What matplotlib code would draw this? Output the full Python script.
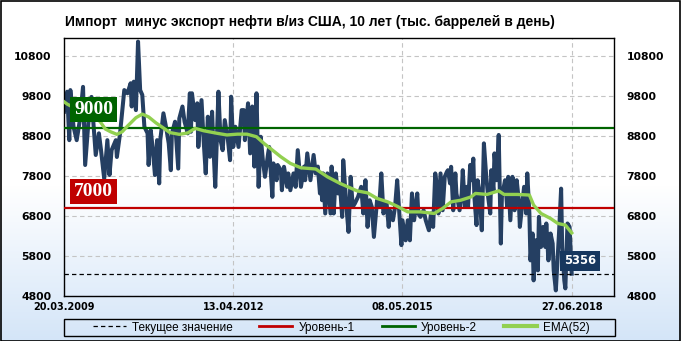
import numpy as np
import matplotlib.pyplot as plt
from matplotlib.lines import Line2D
from matplotlib.patches import Rectangle

# недельные данные (номер недели от 20.03.2009, тыс. баррелей в день)
weeks = [0, 3, 5, 6, 9, 12, 15, 18, 20, 23, 26, 30, 33, 35, 38, 41, 43, 45, 49, 50,
         53, 57, 60, 63, 64, 66, 68, 70, 72, 74, 76, 79, 80, 82, 84, 86, 88, 90, 91, 94,
         97, 99, 101, 102, 105, 108, 109, 112, 114, 117, 119, 120, 121, 124, 126, 127, 130, 132, 134, 136,
         138, 140, 141, 143, 145, 146, 148, 150, 152, 155, 157, 158, 160, 162, 165, 168, 170, 171, 174, 176,
         178, 180, 182, 184, 186, 188, 190, 193, 194, 197, 198, 201, 202, 205, 206, 208, 211, 212, 214, 217,
         219, 221, 224, 227, 228, 230, 233, 236, 238, 240, 242, 243, 244, 245, 247, 249, 252, 253, 255, 257,
         259, 261, 263, 264, 266, 267, 269, 271, 273, 275, 278, 281, 283, 285, 287, 289, 291, 293, 296, 298,
         300, 302, 305, 307, 308, 311, 313, 315, 317, 319, 320, 323, 325, 327, 329, 331, 334, 335, 337, 340,
         342, 345, 347, 349, 351, 353, 354, 356, 358, 360, 362, 363, 365, 366, 368, 370, 371, 374, 376, 377,
         379, 381, 382, 384, 385, 387, 388, 390, 391, 393, 395, 397, 399, 401, 403, 404, 406, 407, 409, 411,
         413, 414, 417, 419, 420, 422, 424, 426, 428, 430, 431, 433, 435, 437, 438, 440, 441, 443, 444, 446,
         448, 449, 451, 453, 455, 456, 458, 460, 462, 463, 465, 467, 468, 470, 471, 473, 474, 476, 478, 480]
values = [9400, 9900, 8690, 9940, 9025, 8690, 9190, 10020, 8070, 9110, 9770, 8320, 8860, 8440, 7730, 8690, 7820, 8440, 8690, 8270,
          8860, 9940, 9860, 10110, 9530, 10150, 9440, 11150, 9940, 9820, 9025, 8860, 8070, 8940, 8440, 7820, 8690, 7610, 8690, 9360,
          8940, 8610, 7940, 8860, 9150, 7980, 9230, 9530, 9150, 8860, 9860, 8900, 9860, 9190, 9610, 8520, 9690, 8690, 7860, 9275,
          8275, 9400, 8690, 7525, 9110, 9900, 8690, 8440, 9190, 8690, 8190, 9775, 8520, 9025, 8520, 9440, 9440, 8690, 9610, 8360,
          9530, 8030, 9860, 7525, 8775, 8190, 7775, 8360, 8520, 7275, 8110, 7690, 8070, 7940, 7440, 8025, 7525, 7860, 7440, 7860,
          7525, 8440, 7525, 8030, 7690, 8360, 7690, 8320, 7860, 8030, 7360, 7860, 7190, 7860, 6860, 7860, 6860, 8030, 6860, 7860,
          7360, 7525, 6775, 8190, 7440, 7025, 6400, 7775, 7025, 7110, 7275, 7525, 6860, 7690, 6525, 7190, 7025, 6275, 7190, 7025,
          7860, 6860, 7110, 6525, 6940, 6690, 7025, 7690, 6860, 6070, 6690, 6190, 6690, 6190, 7360, 6690, 7360, 6860, 6775, 6940,
          6690, 6440, 6860, 6525, 7860, 7440, 6860, 7860, 6940, 7775, 7900, 7940, 7610, 8025, 6940, 7860, 7360, 6940, 7360, 7940,
          7025, 7525, 7025, 8070, 7690, 8230, 7275, 6570, 7690, 7360, 6440, 8610, 7860, 7275, 6860, 7940, 7440, 8360, 7690, 8820,
          6110, 7275, 7690, 7025, 7775, 6690, 7775, 6940, 7690, 7190, 6525, 7025, 7525, 6860, 7860, 6860, 5690, 6360, 5190, 6190,
          5440, 6775, 6025, 6525, 6025, 6610, 5690, 6360, 6110, 5440, 4940, 5860, 6360, 7480, 6025, 5190, 4990, 6610, 6525, 5356]

# EMA(52)
ema_weeks = [0, 3, 34, 39, 44, 50, 55, 60, 68, 74, 80, 87, 95, 100, 109, 117, 124, 132, 145, 154,
             164, 173, 182, 189, 195, 205, 214, 224, 238, 249, 261, 277, 287, 296, 306, 315, 325, 337, 350, 358,
             366, 375, 385, 389, 400, 411, 416, 429, 440, 444, 451, 460, 467, 474, 480]
ema_values = [9650, 9590, 9160, 8970, 8900, 8835, 8900, 9040, 9250, 9340, 9270, 9120, 8975, 8880, 8835, 8870, 8985, 8925, 8860, 8820,
              8840, 8840, 8775, 8610, 8485, 8275, 8110, 8000, 7970, 7775, 7610, 7425, 7375, 7235, 7150, 7040, 6900, 6900, 6860, 6985,
              7150, 7190, 7275, 7360, 7335, 7425, 7335, 7335, 7320, 7070, 6860, 6735, 6610, 6570, 6375]

tick_weeks = [0, 160, 320, 480]
tick_dates = ['20.03.2009', '13.04.2012', '08.05.2015', '27.06.2018']
y_ticks = [4800, 5800, 6800, 7800, 8800, 9800, 10800]

level_1 = 7000
level_2 = 9000
current = 5356

title = 'Импорт  минус экспорт нефти в/из США, 10 лет (тыс. баррелей в день)'
legend_labels = ['Текущее значение', 'Уровень-1', 'Уровень-2', 'EMA(52)']

NAVY = '#253F62'
RED = '#C00000'
GREEN = '#006400'
LIME = '#92D050'

W, H = 681, 341
fig = plt.figure(figsize=(W / 100, H / 100), dpi=100)

# фон: белый сверху, голубой снизу
bg = fig.add_axes([0, 0, 1, 1], zorder=-10)
rows = np.arange(H)
t = np.clip((rows - 185) / (H - 185), 0, 1)[:, None]
top = np.array([1.0, 1.0, 1.0])
bottom = np.array([212, 229, 248]) / 255
grad = (1 - t) * top + t * bottom
bg.imshow(grad[:, None, :].repeat(2, axis=1), aspect='auto', extent=[0, 1, 0, 1])
bg.axis('off')

ax = fig.add_axes([64 / W, 1 - 296 / H, 550 / W, 258 / H])
ax.set_facecolor('none')

ax.plot(weeks, values, color=NAVY, lw=2.9, solid_joinstyle='round', zorder=2)
ax.axhline(level_2, color=GREEN, lw=1.6, zorder=3)
ax.axhline(level_1, color=RED, lw=1.6, zorder=3)
ax.axhline(current, color='black', lw=0.9, ls=(0, (3.5, 2.5)), zorder=3)
ax.plot(ema_weeks, ema_values, color=LIME, lw=2.4, zorder=4)

# подписи уровней
ax.text(28, 9455, str(level_2), color='white', fontsize=14, fontweight='bold', family='Liberation Serif',
        ha='center', va='center', zorder=6,
        bbox=dict(boxstyle='square,pad=0.22', fc=GREEN, ec='none'))
ax.text(28, 7405, str(level_1), color='white', fontsize=14, fontweight='bold', family='Liberation Serif',
        ha='center', va='center', zorder=6,
        bbox=dict(boxstyle='square,pad=0.22', fc=RED, ec='none'))
ax.text(488, 5680, str(current), color='white', fontsize=8.3, fontweight='bold',
        ha='center', va='center', zorder=6,
        bbox=dict(boxstyle='square,pad=0.32', fc='#17375E', ec='none'))

ax.set_xlim(0, 520)
ax.set_ylim(4800, 11240)
ax.set_yticks(y_ticks)
ax.set_xticks(tick_weeks, tick_dates)
ax.tick_params(axis='y', length=0, pad=9, labelsize=7.8, labelleft=True, labelright=True)
ax.tick_params(axis='x', length=0, pad=4, labelsize=7)
for lbl in ax.get_xticklabels() + ax.yaxis.get_majorticklabels():
    lbl.set_fontweight('bold')
ax.grid(True, color='#C4C4C4', ls=(0, (4, 3)), lw=0.8)
ax.set_axisbelow(True)
for s in ax.spines.values():
    s.set_linewidth(1)
    s.set_color('black')

fig.text(65 / W, 1 - 26 / H, title, fontsize=10, fontweight='bold', family='Liberation Sans', va='baseline')

# легенда
handles = [Line2D([], [], color='black', lw=0.9, ls=(0, (3.5, 2.5))),
           Line2D([], [], color=RED, lw=2),
           Line2D([], [], color=GREEN, lw=2),
           Line2D([], [], color=LIME, lw=3)]
leg = fig.legend(handles, legend_labels, loc='center', bbox_to_anchor=(341 / W, 1 - 327.5 / H),
                 ncol=4, frameon=False, prop={'family': 'Liberation Sans', 'size': 8.5},
                 handlelength=2.8, handletextpad=0.5, columnspacing=2.3)
fig.patches.append(Rectangle((64 / W, 1 - 336 / H), 551 / W, 17 / H, transform=fig.transFigure,
                             fill=False, ec='black', lw=1))
fig.patches.append(Rectangle((0.5 / W, 0.5 / H), (W - 1.5) / W, (H - 1.5) / H, transform=fig.transFigure,
                             fill=False, ec='black', lw=1.2))

fig.savefig('out.png', dpi=100)
